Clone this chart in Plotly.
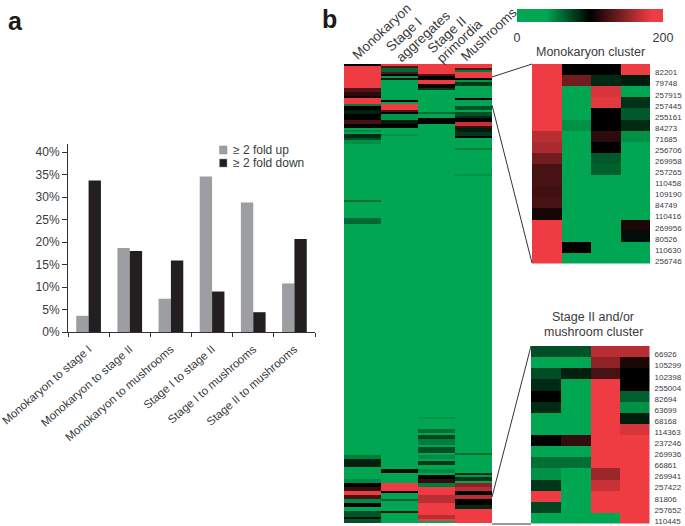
import plotly.graph_objects as go

W, H = 685, 526
FONT = "Liberation Sans"
TEXT = "#3a3a3c"

# ---- panel a ----
comparisons = ["Monokaryon to stage I", "Monokaryon to stage II", "Monokaryon to mushrooms",
               "Stage I to stage II", "Stage I to mushrooms", "Stage II to mushrooms"]
fold_up = [3.6, 18.7, 7.4, 34.6, 28.8, 10.8]
fold_down = [33.7, 18.0, 15.9, 9.0, 4.4, 20.7]
pct_ticks = [0, 5, 10, 15, 20, 25, 30, 35, 40]
pct_labels = ["0%", "5%", "10%", "15%", "20%", "25%", "30%", "35%", "40%"]
legend_names = ["≥ 2 fold up", "≥ 2 fold down"]

# ---- panel b, overview heat map: (last row, expression value) runs per stage ----
stage_header_lines = ["Monokaryon", "Stage I", "aggregates", "Stage II", "primordia", "Mushrooms"]
monokaryon_runs = [(1, 100), (12, 200), (14, 130), (16, 115), (17, 105), (20, 200), (21, 55), (23, 100),
                   (25, 88), (28, 100), (30, 125), (32, 102), (33, 0), (34, 50), (35, 0), (37, 85), (38, 70),
                   (40, 48), (68, 0), (69, 60), (77, 0), (80, 62), (196, 0), (198, 55), (202, 88), (208, 0),
                   (210, 50), (212, 100), (214, 118), (216, 200), (218, 125), (220, 50), (222, 100), (224, 0),
                   (227, 70), (228, 95), (230, 70)]
stage1_runs = [(1, 200), (2, 130), (4, 62), (5, 130), (6, 100), (7, 45), (8, 92), (18, 0), (19, 100), (20, 0),
               (23, 190), (24, 130), (25, 100), (28, 45), (30, 90), (32, 100), (35, 0), (36, 46), (203, 0),
               (205, 95), (210, 0), (214, 200), (215, 100), (218, 0), (219, 65), (224, 0), (225, 90), (230, 0)]
stage2_runs = [(5, 200), (6, 130), (8, 100), (10, 195), (12, 105), (13, 80), (24, 0), (25, 60), (27, 0), (30, 100),
               (177, 0), (178, 46), (183, 0), (185, 60), (186, 0), (188, 75), (191, 55), (192, 0), (195, 72),
               (196, 0), (198, 50), (199, 0), (201, 80), (203, 0), (205, 50), (206, 0), (208, 100), (210, 118),
               (212, 55), (216, 200), (220, 165), (226, 200), (228, 165), (229, 195), (230, 0)]
mushroom_runs = [(2, 200), (3, 130), (4, 55), (7, 200), (8, 100), (9, 46), (11, 80), (17, 0), (18, 100), (21, 0),
                 (23, 70), (24, 0), (26, 70), (27, 85), (29, 100), (31, 170), (32, 120), (34, 90), (36, 80),
                 (37, 100), (42, 0), (43, 55), (55, 0), (56, 48), (195, 0), (196, 60), (205, 0), (206, 85),
                 (207, 46), (209, 80), (210, 0), (212, 150), (214, 165), (216, 100), (218, 165), (221, 100),
                 (223, 85), (230, 200)]

# ---- panel b, monokaryon cluster ----
mono_ids = ["82201", "79748", "257915", "257445", "255161", "84273", "71685", "256706", "269958",
            "257265", "110458", "109190", "84749", "110416", "269956", "80526", "110630", "256746"]
mono_z = [[200, 100, 100, 200], [200, 140, 85, 90], [200, 0, 175, 0], [200, 0, 180, 82], [200, 0, 100, 68],
          [200, 48, 100, 85], [165, 0, 115, 48], [160, 0, 100, 0], [140, 0, 68, 0], [125, 0, 65, 0],
          [125, 0, 0, 0], [122, 0, 0, 0], [125, 0, 0, 0], [108, 0, 0, 0], [200, 0, 0, 110],
          [198, 0, 0, 95], [200, 100, 0, 0], [200, 0, 0, 0]]

# ---- panel b, stage II and/or mushroom cluster ----
late_ids = ["66926", "105299", "102398", "255004", "82694", "63699", "68168", "114363", "237246",
            "269936", "66861", "269941", "257422", "81806", "257652", "110445"]
late_z = [[72, 70, 165, 165], [0, 0, 150, 110], [72, 88, 125, 100], [85, 0, 200, 100], [100, 0, 200, 65],
          [85, 0, 200, 48], [0, 0, 200, 90], [0, 0, 200, 175], [100, 118, 200, 195], [0, 0, 200, 200],
          [60, 60, 200, 200], [48, 0, 155, 200], [80, 0, 170, 200], [200, 0, 200, 200],
          [75, 0, 200, 200], [0, 0, 0, 200]]

GREEN, RED = "#00A651", "#EF3B42"
GREY, BLACK = "#9C9EA1", "#231F20"


def px_x(x):
    return x / W


def px_y(y):
    return 1 - y / H


def expand(runs):
    out, start = [], 0
    for stop, value in runs:
        out += [value] * (stop - start)
        start = stop
    return out


cols = [expand(r) for r in (monokaryon_runs, stage1_runs, stage2_runs, mushroom_runs)]
main_z = [list(row) for row in zip(*cols)]

fig = go.Figure()
fig.add_bar(x=comparisons, y=fold_up, marker=dict(color=GREY, line_width=0), name=legend_names[0],
            xaxis="x", yaxis="y", showlegend=False)
fig.add_bar(x=comparisons, y=fold_down, marker=dict(color=BLACK, line_width=0), name=legend_names[1],
            xaxis="x", yaxis="y", showlegend=False)
fig.add_heatmap(z=main_z, xaxis="x2", yaxis="y2", coloraxis="coloraxis")
fig.add_heatmap(z=mono_z, xaxis="x3", yaxis="y3", coloraxis="coloraxis")
fig.add_heatmap(z=late_z, xaxis="x4", yaxis="y4", coloraxis="coloraxis")


def hidden(**kw):
    return dict(visible=False, showgrid=False, zeroline=False, **kw)


def id_axis(ids, dom):
    return dict(domain=dom, range=[len(ids) - 0.5, -0.5], side="right", anchor="x3" if ids is mono_ids else "x4",
                tickmode="array", tickvals=[i + 0.27 for i in range(len(ids))], ticktext=ids, ticklabelstandoff=4,
                tickfont=dict(size=8, color=TEXT), ticks="", showgrid=False, zeroline=False, showline=False)


axis_line = dict(showline=True, linecolor="#333333", linewidth=1, ticks="outside", tickcolor="#333333",
                 tickwidth=1, showgrid=False, zeroline=False)
fig.update_layout(
    width=W, height=H, margin=dict(l=0, r=0, t=0, b=0, autoexpand=False),
    paper_bgcolor="white", plot_bgcolor="white", font=dict(family=FONT, color=TEXT, size=12),
    barmode="group", bargap=0.4, bargroupgap=0, showlegend=False,
    xaxis=dict(domain=[px_x(68), px_x(315)], range=[-0.5, 5.5], tickson="boundaries", tickangle=-41, ticklen=4,
               ticklabelstandoff=5, tickfont=dict(size=11.5, color=TEXT), anchor="y", **axis_line),
    yaxis=dict(domain=[px_y(332), px_y(144)], range=[0, 41.8], tickmode="array", tickvals=pct_ticks,
               ticktext=pct_labels, ticklen=5, tickfont=dict(size=12, color=TEXT), anchor="x", **axis_line),
    xaxis2=hidden(domain=[px_x(344), px_x(492)], range=[-0.5, 3.5], anchor="y2"),
    yaxis2=hidden(domain=[px_y(523), px_y(64)], range=[229.5, -0.5], anchor="x2"),
    xaxis3=hidden(domain=[px_x(532), px_x(650)], range=[-0.5, 3.5], anchor="y3"),
    yaxis3=id_axis(mono_ids, [px_y(263.5), px_y(64)]),
    xaxis4=hidden(domain=[px_x(531), px_x(649.5)], range=[-0.5, 3.5], anchor="y4"),
    yaxis4=id_axis(late_ids, [px_y(523.5), px_y(346)]),
    coloraxis=dict(
        cmin=0, cmax=200,
        colorscale=[[0, GREEN], [0.2, GREEN], [0.5, "#000000"], [0.92, RED], [1, RED]],
        colorbar=dict(orientation="h", x=px_x(517), xanchor="left", y=px_y(9), yanchor="top", len=146,
                      lenmode="pixels", thickness=13, outlinewidth=0, xpad=0, ypad=0,
                      tickvals=[0, 200], ticks="outside", ticklen=5, tickcolor="rgba(0,0,0,0)",
                      tickfont=dict(size=12.5, color=TEXT)),
    ),
)


def note(text, x, y, size=12, angle=0, anchor="center", bold=False, color=TEXT, align="center"):
    fig.add_annotation(text=f"<b>{text}</b>" if bold else text, xref="paper", yref="paper", x=px_x(x), y=px_y(y),
                       showarrow=False, xanchor=anchor, yanchor="middle", textangle=angle, align=align,
                       font=dict(size=size, color=color), borderpad=0)


def rule(x0, y0, x1, y1):
    fig.add_shape(type="line", xref="paper", yref="paper", x0=px_x(x0), y0=px_y(y0), x1=px_x(x1), y1=px_y(y1),
                  line=dict(color="#333333", width=1))


note("a", 15, 21, size=25, bold=True, color="#1a1a1a")
note("b", 329, 19, size=25, bold=True, color="#1a1a1a")

# bar-chart key
for (name, colour, top) in zip(legend_names, (GREY, BLACK), (146, 159)):
    fig.add_shape(type="rect", xref="paper", yref="paper", x0=px_x(219.5), x1=px_x(227), y0=px_y(top + 8), y1=px_y(top),
                  fillcolor=colour, line=dict(color="#8f9093", width=0.5))
    note(name, 232, top + 4, size=12, anchor="left")

# stage headers: each printed line placed on its own so the tight line spacing is kept
for line, x, y in zip(stage_header_lines, (382, 404, 423, 447, 459, 489), (32, 35, 36, 34, 41, 35)):
    note(line, x, y, size=13.5, angle=-43)

note("Monokaryon cluster", 590, 52, size=12.5)
note("Stage II and/or", 593, 317, size=12.5)
note("mushroom cluster", 593, 332, size=12.5)

# connectors from the overview to the clusters
rule(492, 77, 532, 64)
rule(492, 105, 532, 263)
rule(492, 497, 531, 346)
rule(492, 524, 531, 524)

fig.write_html("out.html", config={"displayModeBar": False}, post_script="document.body.style.margin='0';")
